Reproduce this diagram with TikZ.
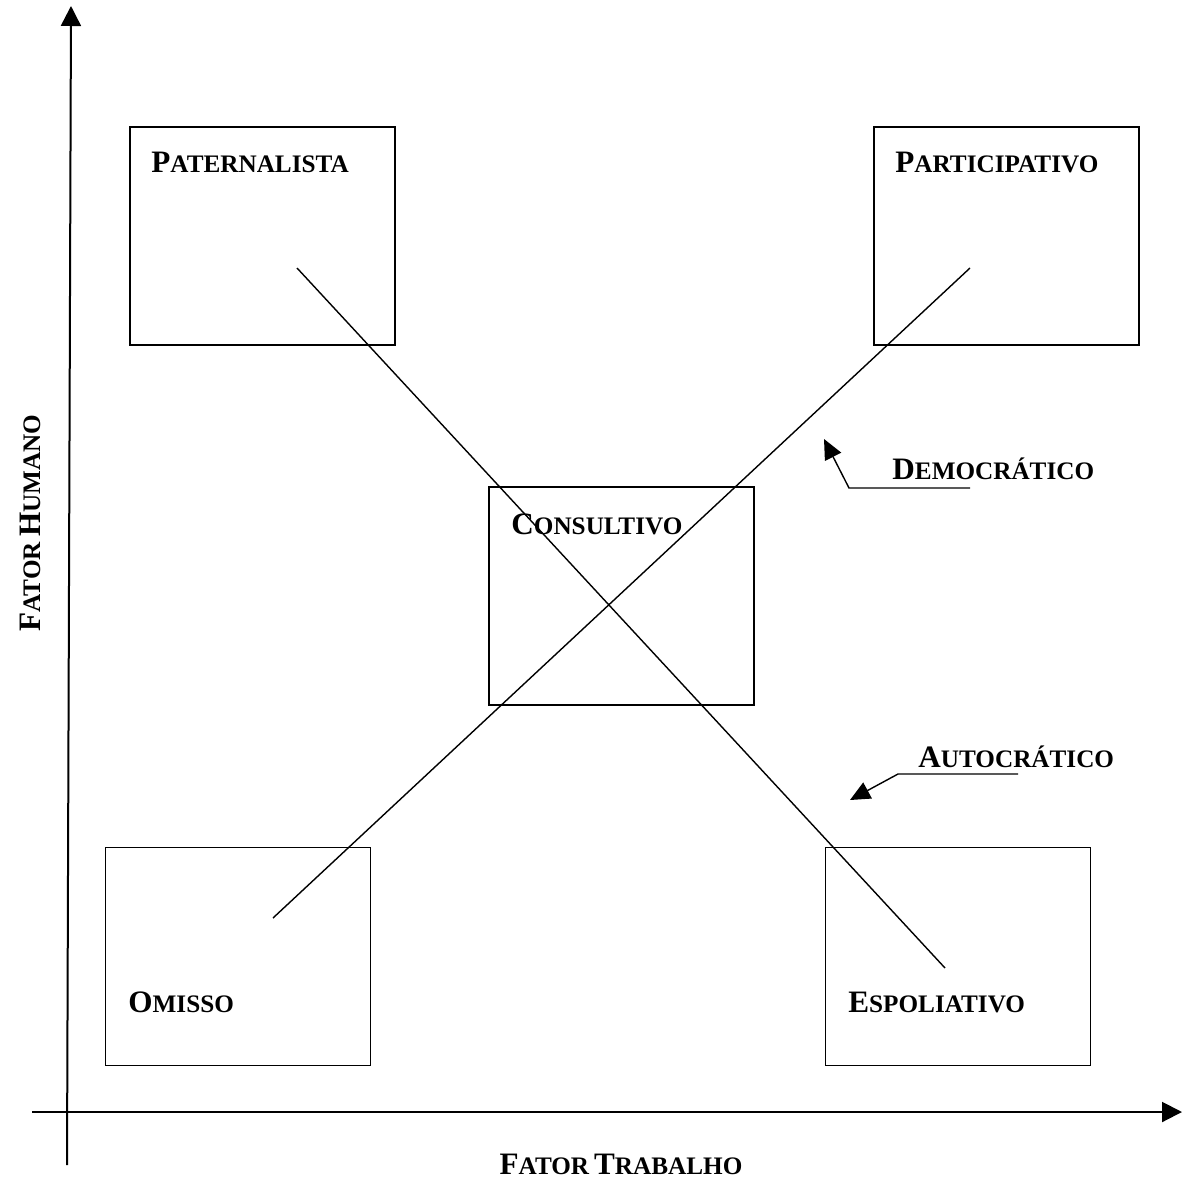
\documentclass[tikz,border=0pt]{standalone}
\usepackage{fontspec}
\setmainfont{Liberation Serif}
\usetikzlibrary{arrows.meta}

% fake small capitals, as the labels are set
\newcommand{\smcap}[2]{{\bfseries\fontsize{15.6}{18}\selectfont #1\fontsize{12.6}{14}\selectfont #2}}

\tikzset{
	stylebox/.style={draw, line width=0.8pt, minimum width=132.5pt, minimum height=109pt, inner sep=0pt},
	stylelabel/.style={inner sep=0pt, anchor=base west},
	styleaxis/.style={line width=1pt, -{Triangle[length=10pt, width=10pt]}},
	stylediag/.style={line width=0.7pt},
	stylepointer/.style={line width=0.7pt, -{Triangle[length=10pt, width=9pt]}}
}

\begin{document}
\begin{tikzpicture}[x=0.5pt, y=-0.5pt]
	\useasboundingbox (0, 0) rectangle (1182, 1182);
	% Axes:
	\coordinate (Y0) at (67, 1165);
	\coordinate (Y1) at (71, 6);
	\coordinate (X0) at (32, 1112);
	\coordinate (X1) at (1182, 1112);
	\draw[styleaxis] (Y0) -- (Y1);
	\draw[styleaxis] (X0) -- (X1);
	\node[inner sep=0pt, anchor=base](N1) at (621, 1174){\smcap{F}{ATOR} \smcap{T}{RABALHO}};
	\node[inner sep=0pt, anchor=base, rotate=90](N2) at (40, 523){\smcap{F}{ATOR} \smcap{H}{UMANO}};
	% Boxes and their labels:
	\node[stylebox](B1) at (262.5, 236){};
	\node[stylelabel] at (151, 173){\smcap{P}{ATERNALISTA}};
	\node[stylebox](B2) at (1006.5, 236){};
	\node[stylelabel] at (895, 173){\smcap{P}{ARTICIPATIVO}};
	\node[stylebox](B3) at (621.5, 596){};
	\node[stylelabel] at (511, 534){\smcap{C}{ONSULTIVO}};
	\node[stylebox](B4) at (238, 956.5){};
	\node[stylelabel] at (128, 1012){\smcap{O}{MISSO}};
	\node[stylebox](B5) at (958, 956.5){};
	\node[stylelabel] at (848, 1012){\smcap{E}{SPOLIATIVO}};
	% Diagonals:
	\coordinate (D1) at (297, 268);
	\coordinate (D2) at (945, 968);
	\coordinate (D3) at (970, 268);
	\coordinate (D4) at (273, 918);
	\draw[stylediag] (D1) -- (D2);
	\draw[stylediag] (D3) -- (D4);
	% Pointers:
	\node[stylelabel](L1) at (892, 479){\smcap{D}{EMOCRÁTICO}};
	\coordinate (P1) at (970, 488);
	\coordinate (P2) at (849, 488);
	\coordinate (P3) at (824, 439);
	\draw[stylepointer] (P1) -- (P2) -- (P3);
	\node[stylelabel](L2) at (918, 767){\smcap{A}{UTOCRÁTICO}};
	\coordinate (P4) at (1018, 774);
	\coordinate (P5) at (898, 774);
	\coordinate (P6) at (850, 800);
	\draw[stylepointer] (P4) -- (P5) -- (P6);
\end{tikzpicture}
\end{document}
